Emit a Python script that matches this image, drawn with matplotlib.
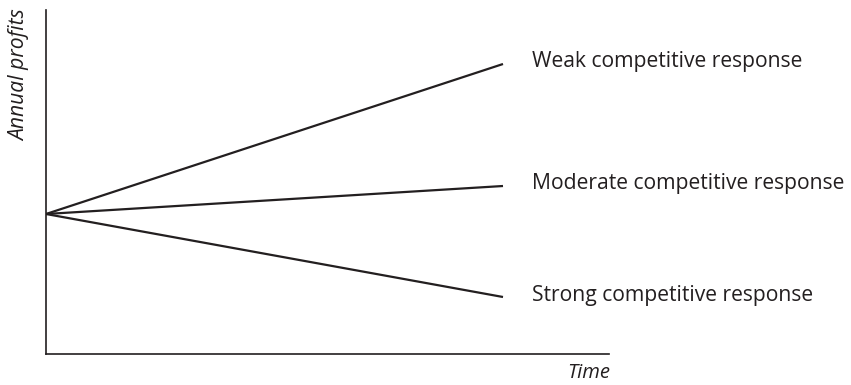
import numpy as np
from matplotlib import pyplot as plt

# profit paths under three competitive responses (arbitrary units)
times = [0.0, 1.0]
start_profit = 140
end_profits = [290, 168, 57]
responses = ["Weak competitive response",
             "Moderate competitive response",
             "Strong competitive response"]

W, H = 851, 385
FS = 15.2
INK = "#231f20"
fig = plt.figure(figsize=(W / 100, H / 100), dpi=100, facecolor="w")
ax = fig.add_axes([46 / W, (H - 354) / H, (609 - 46) / W, (354 - 10) / H])

for end, label in zip(end_profits, responses):
    ax.plot(times, [start_profit, end], color=INK, lw=1.6,
            solid_capstyle="butt")
    ax.text(times[-1] + 0.064, end + 2, label, fontsize=FS, family="Open Sans",
            color=INK, va="center", ha="left")

ax.set_xlim(0, 563 / 457)
ax.set_ylim(0, 344)
for side in ["top", "right"]:
    ax.spines[side].set_visible(False)
for side in ["left", "bottom"]:
    ax.spines[side].set_linewidth(1.2)
    ax.spines[side].set_color(INK)
ax.set_xticks([])
ax.set_yticks([])

fig.text(610 / W, 1 - 373 / H, "Time", fontsize=14.6, family="Open Sans",
         style="italic", ha="right", va="center", color=INK)
fig.text(20 / W, 1 - 75 / H, "Annual profits", fontsize=FS, family="Open Sans",
         style="italic", rotation=90, ha="center", va="center", color=INK)

fig.savefig("out.png", dpi=100)
